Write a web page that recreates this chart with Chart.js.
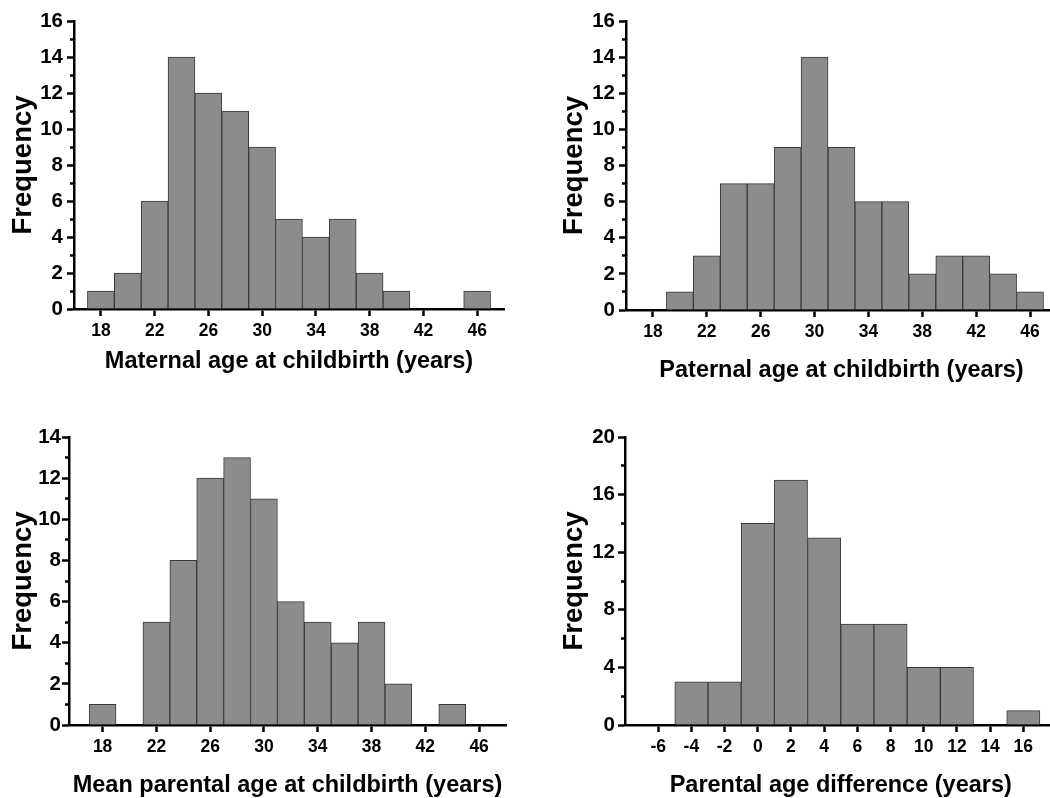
<!DOCTYPE html>
<html>
<head>
<meta charset="utf-8">
<script src="https://cdn.jsdelivr.net/npm/chart.js@4.4.1/dist/chart.umd.min.js"></script>
<style>
  html, body { margin: 0; padding: 0; background: #fff; overflow: hidden; }
  #page { position: relative; width: 1050px; height: 798px; overflow: hidden; }
  .panel { position: absolute; height: 399px; }
</style>
</head>
<body>
<div id="page">
  <div class="panel" style="left:0;top:0;width:525px"><canvas id="maternal"></canvas></div>
  <div class="panel" style="left:525px;top:0;width:560px"><canvas id="paternal"></canvas></div>
  <div class="panel" style="left:0;top:399px;width:525px"><canvas id="mean"></canvas></div>
  <div class="panel" style="left:525px;top:399px;width:560px"><canvas id="diff"></canvas></div>
</div>
<script>
// bin centres (2-year bins) and counts
const ageBins = [18, 20, 22, 24, 26, 28, 30, 32, 34, 36, 38, 40, 42, 44, 46];
const maternalCounts = [1, 2, 6, 14, 12, 11, 9, 5, 4, 5, 2, 1, 0, 0, 1];
const paternalCounts = [0, 1, 3, 7, 7, 9, 14, 9, 6, 6, 2, 3, 3, 2, 1];
const meanCounts = [1, 0, 5, 8, 12, 13, 11, 6, 5, 4, 5, 2, 0, 1, 0];

const diffBins = [-6, -4, -2, 0, 2, 4, 6, 8, 10, 12, 14, 16];
const diffCounts = [0, 3, 3, 14, 17, 13, 7, 7, 4, 4, 0, 1];

// tick labels
const ageTicks = [18, 22, 26, 30, 34, 38, 42, 46];
const diffTicks = [-6, -4, -2, 0, 2, 4, 6, 8, 10, 12, 14, 16];

const titles = {
    maternal: 'Maternal age at childbirth (years)',
    paternal: 'Paternal age at childbirth (years)',
    mean: 'Mean parental age at childbirth (years)',
    diff: 'Parental age difference (years)'
};

const FONT = "'Liberation Sans', Arial, sans-serif";

function makeHistogram(id, bins, counts, xTicks, o) {
    const ctx = document.getElementById(id).getContext('2d');
    return new Chart(ctx, {
        type: 'bar',
        data: {
            labels: bins,
            datasets: [{
                data: counts,
                backgroundColor: '#8c8c8c',
                borderColor: '#3a3a3a',
                borderWidth: 1,
                barPercentage: 1,
                categoryPercentage: 1
            }]
        },
        options: {
            responsive: true,
            maintainAspectRatio: false,
            devicePixelRatio: 1,
            animation: false,
            layout: { padding: { left: 0, top: o.padTop, right: o.padRight, bottom: 0 } },
            plugins: { legend: { display: false }, tooltip: { enabled: false } },
            scales: {
                x: {
                    type: 'linear',
                    min: o.xMin,
                    max: o.xMax,
                    offset: false,
                    z: 1,
                    afterBuildTicks: s => { s.ticks = xTicks.map(v => ({ value: v })); },
                    afterFit: s => { s.height = o.xAxisH; },
                    border: { display: true, color: '#000', width: 2.5 },
                    grid: { offset: false, drawOnChartArea: false, tickLength: 7, tickWidth: 2.5, tickColor: '#000' },
                    ticks: {
                        autoSkip: false, maxRotation: 0, padding: 5, color: '#000',
                        font: { family: FONT, size: 17.5, weight: 'bold' }
                    },
                    title: {
                        display: true, text: titles[id], color: '#000',
                        font: { family: FONT, size: 23.5, weight: 'bold', lineHeight: 1 },
                        padding: { top: 0, bottom: o.xTitlePad }
                    }
                },
                y: {
                    min: 0,
                    max: o.yMax,
                    afterFit: s => { s.width = o.yAxisW; },
                    border: { display: true, color: '#000', width: 2.5 },
                    grid: {
                        drawOnChartArea: false, tickLength: 7, tickWidth: 2.5, tickColor: '#000',
                        // minor ticks: only the part next to the axis is drawn
                        tickBorderDash: c => (c.tick && c.tick.value % o.major !== 0) ? [0, 3, 20] : []
                    },
                    ticks: {
                        stepSize: o.minor, autoSkip: false, padding: o.yTickPad, color: '#000',
                        font: { family: FONT, size: 20.5, weight: 'bold' },
                        callback: v => (v % o.major === 0 ? v : '')
                    },
                    title: {
                        display: true, text: 'Frequency', color: '#000',
                        font: { family: FONT, size: 27.5, weight: 'bold', lineHeight: 1.2 },
                        padding: { top: o.yTitlePad, bottom: 0 }
                    }
                }
            }
        }
    });
}

makeHistogram('maternal', ageBins, maternalCounts, ageTicks,
    { xMin: 16, xMax: 48, yMax: 16, major: 2, minor: 1, yAxisW: 74, padTop: 21, padRight: 21, xAxisH: 90, yTitlePad: 6.5, xTitlePad: 26, yTickPad: 4 });
makeHistogram('paternal', ageBins, paternalCounts, ageTicks,
    { xMin: 16, xMax: 48, yMax: 16, major: 2, minor: 1, yAxisW: 101, padTop: 21, padRight: 28, xAxisH: 89, yTitlePad: 32.5, xTitlePad: 17, yTickPad: 4 });
makeHistogram('mean', ageBins, meanCounts, ageTicks,
    { xMin: 15.5, xMax: 48, yMax: 14, major: 2, minor: 1, yAxisW: 69, padTop: 38, padRight: 19, xAxisH: 73, yTitlePad: 6.5, xTitlePad: 0.5, yTickPad: 1 });
makeHistogram('diff', diffBins, diffCounts, diffTicks,
    { xMin: -8, xMax: 18, yMax: 20, major: 4, minor: 2, yAxisW: 100, padTop: 38, padRight: 28.5, xAxisH: 73, yTitlePad: 32.5, xTitlePad: 0.5, yTickPad: 3 });
</script>
</body>
</html>
